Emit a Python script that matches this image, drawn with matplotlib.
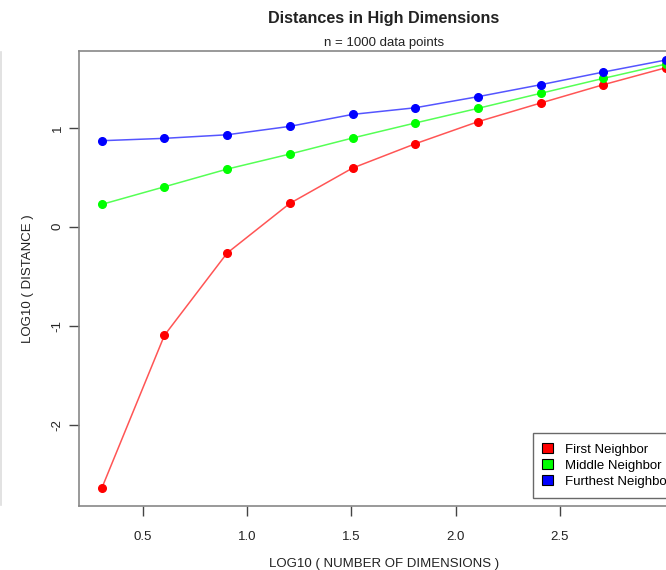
import matplotlib
matplotlib.use('Agg')
import matplotlib.pyplot as plt
from matplotlib.patches import Patch
from matplotlib.lines import Line2D

plt.rcParams['font.family'] = ['Liberation Sans', 'DejaVu Sans']

# log10 of number of dimensions (2, 4, ..., 1024)
log_dims = [0.301, 0.602, 0.903, 1.204, 1.505, 1.806, 2.107, 2.408, 2.709, 3.010]

# log10 distances
first_nb = [-2.645, -1.098, -0.266, 0.236, 0.593, 0.839, 1.062, 1.251, 1.436, 1.608]
middle_nb = [0.226, 0.404, 0.583, 0.735, 0.897, 1.049, 1.197, 1.349, 1.500, 1.645]
furthest_nb = [0.870, 0.894, 0.930, 1.015, 1.136, 1.203, 1.315, 1.436, 1.564, 1.686]

series_names = ['First Neighbor', 'Middle Neighbor', 'Furthest Neighbor']
series_colors = ['#ff0000', '#00ff00', '#0000ff']
line_colors = ['#ff5555', '#55ff55', '#5555ff']

x_ticks = [0.5, 1.0, 1.5, 2.0, 2.5]
y_ticks = [-2, -1, 0, 1]

W, H = 666, 570
fig = plt.figure(figsize=(W / 100, H / 100), dpi=100)

# plot region runs past the right edge of the picture (cropped)
left, right, top, bottom = 79, 688.7, 50.7, 505.7
ax = fig.add_axes([left / W, 1 - bottom / H, (right - left) / W, (bottom - top) / H])

for vals, c, lc in zip([first_nb, middle_nb, furthest_nb], series_colors, line_colors):
	ax.plot(log_dims, vals, color=lc, lw=1.1, zorder=2)
	ax.plot(log_dims, vals, color=c, lw=0, marker='o', markersize=5.5, zorder=3)

ax.set_xlim(0.192, 3.119)
ax.set_ylim(-2.82, 1.78)

ax.set_xticks(x_ticks)
ax.set_xticklabels(['%.1f' % t for t in x_ticks])
ax.set_yticks(y_ticks)
ax.set_yticklabels([str(t) for t in y_ticks], rotation=90, va='center')

ax.tick_params(axis='both', direction='out', length=7, width=1, color='#444444',
	labelsize=9.5, labelcolor='#222222')
ax.tick_params(axis='x', pad=11)
ax.tick_params(axis='y', pad=4)

for s in ax.spines.values():
	s.set_color('#888888')
	s.set_linewidth(1.2)

ax.set_xlabel('LOG10 ( NUMBER OF DIMENSIONS )', fontsize=9.5, color='#222222', labelpad=11)
ax.set_ylabel('LOG10 ( DISTANCE )', fontsize=9.5, color='#222222', labelpad=13)

# title centred on the full plot region
cx = (left + right) / 2 / W
fig.text(cx, 1 - 18 / H, 'Distances in High Dimensions', ha='center', va='center',
	fontsize=11.6, fontweight='bold', color='#222222')
fig.text(cx, 1 - 43 / H, 'n = 1000 data points', ha='center', va='center',
	fontsize=9.5, color='#222222')

handles = [Patch(facecolor=c, edgecolor='black', linewidth=0.8) for c in series_colors]
leg = ax.legend(handles, series_names, loc='lower right', fontsize=9.5,
	frameon=True, fancybox=False, handlelength=0.8, handleheight=0.8,
	handletextpad=0.9, borderpad=0.75, labelspacing=0.25, borderaxespad=0.6)
leg.get_frame().set_edgecolor('#444444')
leg.get_frame().set_linewidth(1.0)

# faint edge of neighbouring panel on the left
fig.add_artist(Line2D([0.6 / W, 0.6 / W], [1 - 52 / H, 1 - 505 / H],
	color='#dddddd', lw=1.2, transform=fig.transFigure))

fig.savefig('out.png', dpi=100)
